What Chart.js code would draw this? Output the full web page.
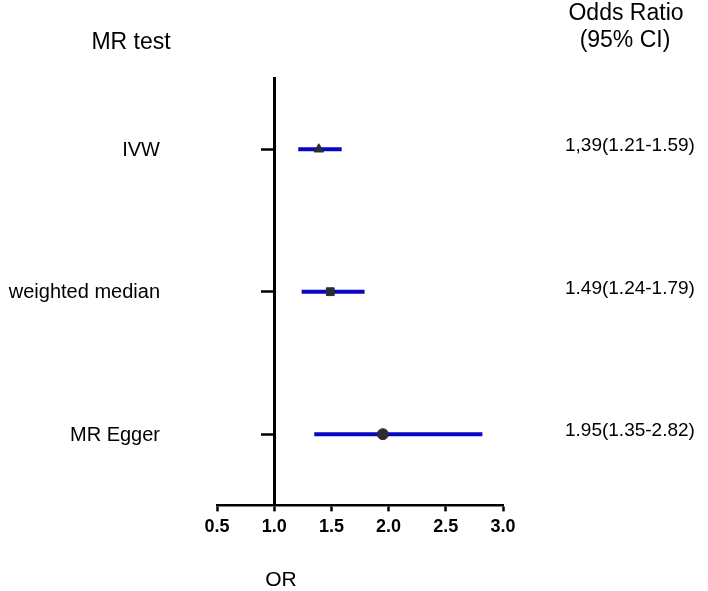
<!DOCTYPE html>
<html>
<head>
<meta charset="utf-8">
<script src="https://cdn.jsdelivr.net/npm/chart.js@4"></script>
<style>
  body { margin: 0; background: #fff; }
  #wrap { width: 708px; height: 591px; position: relative; }
</style>
</head>
<body>
<div id="wrap"><canvas id="forest"></canvas></div>
<script>
// --- datos ---
const metodos = ['IVW', 'weighted median', 'MR Egger'];
const filas = [3, 2, 1];
const oddsRatio = [1.39, 1.49, 1.95];
const ciInferior = [1.21, 1.24, 1.35];
const ciSuperior = [1.59, 1.79, 2.82];
const textoOR = ['1,39(1.21-1.59)', '1.49(1.24-1.79)', '1.95(1.35-2.82)'];
const estilos = ['triangle', 'rect', 'circle'];
const ticksX = [0.5, 1.0, 1.5, 2.0, 2.5, 3.0];

const FUENTE = '"Liberation Sans", Arial, sans-serif';
const AZUL = '#0808c4';

// lineas del intervalo
const datasets = [];
metodos.forEach((m, i) => {
    datasets.push({
        type: 'line',
        label: m + ' CI',
        data: [{ x: ciInferior[i], y: filas[i] }, { x: ciSuperior[i], y: filas[i] }],
        borderColor: AZUL,
        borderWidth: 4,
        pointRadius: 0,
        order: 2
    });
});
// puntos
metodos.forEach((m, i) => {
    datasets.push({
        type: 'scatter',
        label: m,
        data: [{ x: oddsRatio[i], y: filas[i] }],
        pointStyle: estilos[i],
        pointRadius: 5.5,
        backgroundColor: '#2b2b33',
        borderColor: '#2b2b33',
        borderWidth: 1,
        order: 1
    });
});

// textos alrededor del grafico
const textos = {
    id: 'textos',
    afterDraw(chart) {
        const ctx = chart.ctx;
        const y = chart.scales.y;
        ctx.save();
        ctx.fillStyle = '#000';
        ctx.textBaseline = 'middle';

        ctx.font = '23px ' + FUENTE;
        ctx.textAlign = 'center';
        ctx.fillText('MR test', 131, 43);
        ctx.fillText('Odds Ratio', 626, 14);
        ctx.fillText('(95% CI)', 625, 41);

        ctx.font = '20px ' + FUENTE;
        ctx.textAlign = 'right';
        metodos.forEach((m, i) => ctx.fillText(m, 160, y.getPixelForValue(filas[i]) + 1));

        ctx.font = '19px ' + FUENTE;
        ctx.textAlign = 'left';
        textoOR.forEach((t, i) => ctx.fillText(t, 565, y.getPixelForValue(filas[i]) - 3));

        ctx.font = '21px ' + FUENTE;
        ctx.textAlign = 'center';
        ctx.fillText('OR', 281, 580);
        ctx.restore();
    }
};

new Chart(document.getElementById('forest'), {
    data: { datasets },
    options: {
        responsive: true,
        maintainAspectRatio: false,
        animation: false,
        layout: { padding: { left: 217, right: 205, top: 78, bottom: 48 } },
        plugins: { legend: { display: false }, tooltip: { enabled: false } },
        scales: {
            x: {
                type: 'linear',
                min: 0.5,
                max: 3.0,
                afterBuildTicks: axis => { axis.ticks = ticksX.map(v => ({ value: v })); },
                ticks: {
                    color: '#000',
                    padding: 5,
                    font: { family: FUENTE, size: 18, weight: 'bold' },
                    callback: v => Number(v).toFixed(1)
                },
                grid: { drawOnChartArea: false, drawTicks: true, tickLength: 6, tickWidth: 2.5, tickColor: '#000' },
                border: { color: '#000', width: 2.5 }
            },
            y: {
                type: 'linear',
                position: { x: 1 },
                min: 0.5,
                max: 3.5,
                afterBuildTicks: axis => { axis.ticks = filas.map(v => ({ value: v })); },
                ticks: { display: false },
                grid: { drawOnChartArea: false, drawTicks: true, tickLength: 12, tickWidth: 2.5, tickColor: '#000' },
                border: { color: '#000', width: 3 }
            }
        }
    },
    plugins: [textos]
});
</script>
</body>
</html>
